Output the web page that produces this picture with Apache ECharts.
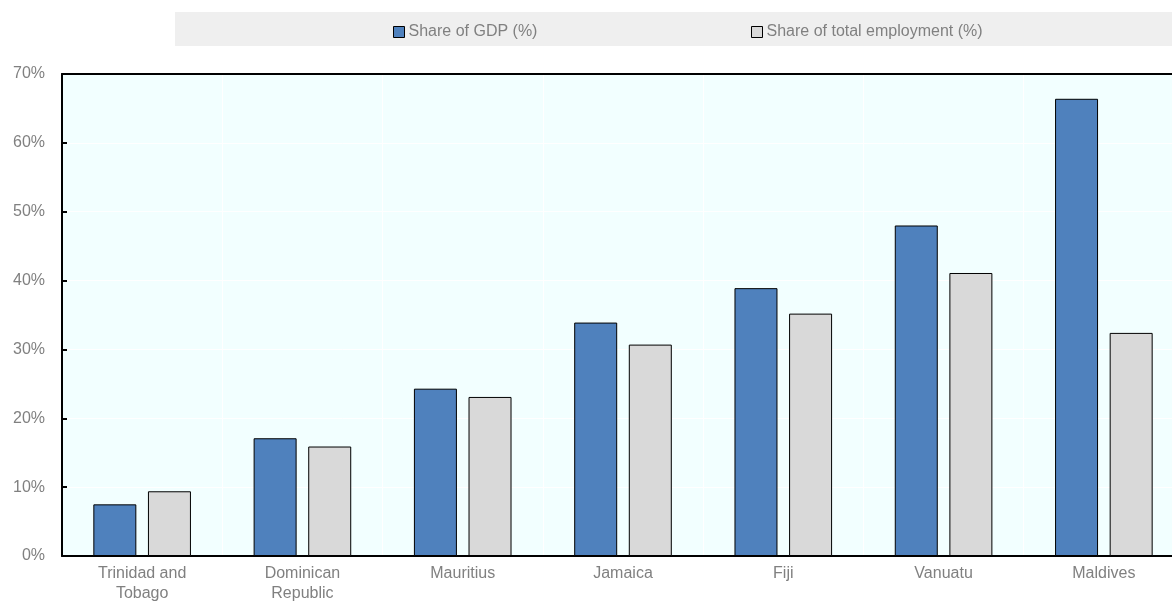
<!DOCTYPE html>
<html>
<head>
<meta charset="utf-8">
<script src="https://cdn.jsdelivr.net/npm/echarts@6/dist/echarts.min.js"></script>
<style>html,body{margin:0;padding:0;background:#fff;overflow:hidden;}#c{width:1184px;height:604px;}</style>
</head>
<body>
<div id="c"></div>
<script>
const categories = ['Trinidad and\nTobago', 'Dominican\nRepublic', 'Mauritius', 'Jamaica', 'Fiji', 'Vanuatu', 'Maldives'];
const gdpShare = [7.5, 17.1, 24.3, 33.9, 38.9, 48.0, 66.4];
const employmentShare = [9.4, 15.9, 23.1, 30.7, 35.2, 41.1, 32.4];
const seriesNames = ['Share of GDP (%)', 'Share of total employment (%)'];

const font = 'Liberation Sans, Arial, sans-serif';
const grey = '#808080';
const chart = echarts.init(document.getElementById('c'), null, {renderer: 'canvas'});
chart.setOption({
  animation: false,
  backgroundColor: '#ffffff',
  graphic: [{
    type: 'rect', left: 175, top: 12, z: -10,
    shape: {width: 1009, height: 34},
    style: {fill: '#efefef'}
  }],
  legend: [{
    data: [{name: seriesNames[0], icon: 'rect'}], left: 388, top: 19, itemWidth: 11, itemHeight: 11,
    itemStyle: {borderColor: '#000', borderWidth: 1},
    textStyle: {color: grey, fontFamily: font, fontSize: 16, padding: [0, 0, 0, -1]}
  }, {
    data: [{name: seriesNames[1], icon: 'rect'}], left: 746, top: 19, itemWidth: 11, itemHeight: 11,
    itemStyle: {borderColor: '#000', borderWidth: 1},
    textStyle: {color: grey, fontFamily: font, fontSize: 16, padding: [0, 0, 0, -1]}
  }],
  grid: {left: 62, right: 0, top: 74, bottom: 48, show: true, backgroundColor: '#f2ffff', borderWidth: 0},
  xAxis: [{
    type: 'category', data: categories, position: 'bottom',
    axisLine: {lineStyle: {color: '#000', width: 2}},
    axisTick: {inside: true, length: 5, lineStyle: {color: '#000', width: 2}},
    splitLine: {show: true, lineStyle: {color: '#ffffff', width: 1}},
    axisLabel: {color: grey, fontFamily: font, fontSize: 16, margin: 8, lineHeight: 20, interval: 0}
  }, {
    type: 'category', data: categories, position: 'top',
    axisLine: {lineStyle: {color: '#000', width: 2}},
    axisTick: {show: false}, axisLabel: {show: false}, splitLine: {show: false}
  }],
  yAxis: {
    type: 'value', min: 0, max: 70, interval: 10,
    axisLine: {show: true, lineStyle: {color: '#000', width: 2}},
    axisTick: {show: true, inside: true, length: 5, lineStyle: {color: '#000', width: 2}},
    splitLine: {show: true, lineStyle: {color: '#ffffff', width: 1}},
    axisLabel: {color: grey, fontFamily: font, fontSize: 16, margin: 17, formatter: '{value}%'}
  },
  series: [{
    name: seriesNames[0], type: 'bar', data: gdpShare, barWidth: 43, barGap: '27%',
    itemStyle: {color: '#4f81bd', borderColor: '#000', borderWidth: 1}
  }, {
    name: seriesNames[1], type: 'bar', data: employmentShare, barWidth: 43,
    itemStyle: {color: '#d9d9d9', borderColor: '#000', borderWidth: 1}
  }]
});
</script>
</body>
</html>
